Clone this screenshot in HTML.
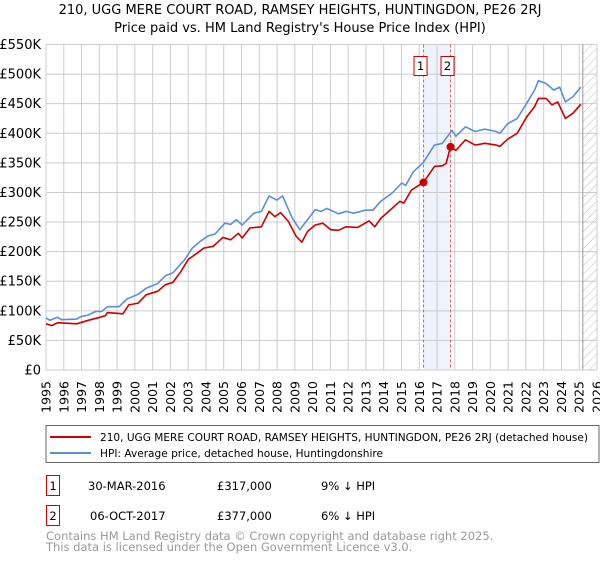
<!DOCTYPE html>
<html><head><meta charset="utf-8"><style>
body{margin:0;background:#fff;width:600px;height:560px;overflow:hidden;font-family:"DejaVu Sans","Liberation Sans",sans-serif}
svg text{font-family:"DejaVu Sans","Liberation Sans",sans-serif}
</style></head><body>
<svg id="chart" width="600" height="560" xmlns="http://www.w3.org/2000/svg">
<defs><pattern id="hatch" width="6" height="6" patternUnits="userSpaceOnUse" patternTransform="rotate(45)"><line x1="0" y1="0" x2="0" y2="6" stroke="#bbb" stroke-width="1"/></pattern></defs>
<text x="300" y="14" font-size="13" text-anchor="middle">210, UGG MERE COURT ROAD, RAMSEY HEIGHTS, HUNTINGDON, PE26 2RJ</text>
<text x="300" y="32" font-size="13" text-anchor="middle">Price paid vs. HM Land Registry's House Price Index (HPI)</text>
<g id="plot"></g>
<g>
<rect x="46" y="425.5" width="553" height="37" fill="#fff" stroke="#666"/>
<line x1="50" y1="437" x2="91" y2="437" stroke="#cc0000" stroke-width="2"/>
<text x="100" y="441" font-size="11" textLength="488" lengthAdjust="spacingAndGlyphs">210, UGG MERE COURT ROAD, RAMSEY HEIGHTS, HUNTINGDON, PE26 2RJ (detached house)</text>
<line x1="50" y1="453" x2="91" y2="453" stroke="#5b8fd4" stroke-width="2"/>
<text x="100" y="457" font-size="11" textLength="283" lengthAdjust="spacingAndGlyphs">HPI: Average price, detached house, Huntingdonshire</text>
</g>
<g font-size="11.5">
<rect x="46.5" y="475.5" width="13" height="20" fill="#fff" stroke="#cc0000"/>
<text x="53" y="490" text-anchor="middle">1</text>
<text x="88" y="490">30-MAR-2016</text><text x="217" y="490">£317,000</text><text x="321" y="490">9% ↓ HPI</text>
</g>
<g font-size="11.5">
<rect x="46.5" y="505.5" width="13" height="20" fill="#fff" stroke="#cc0000"/>
<text x="53" y="520" text-anchor="middle">2</text>
<text x="90" y="520">06-OCT-2017</text><text x="217" y="520">£377,000</text><text x="321" y="520">6% ↓ HPI</text>
</g>
<text x="46" y="540" font-size="11.5" fill="#999">Contains HM Land Registry data © Crown copyright and database right 2025.</text>
<text x="46" y="551" font-size="11.5" fill="#999">This data is licensed under the Open Government Licence v3.0.</text>
</svg>
<script>
const hpiYears=[1995.0,1995.22,1995.65,1995.87,1996.73,1996.95,1997.38,1997.81,1998.14,1998.46,1999.11,1999.55,2000.19,2000.63,2001.28,2001.71,2002.14,2002.79,2003.23,2003.66,2004.09,2004.52,2005.06,2005.39,2005.71,2006.04,2006.69,2007.12,2007.55,2007.98,2008.31,2008.85,2009.28,2009.71,2010.15,2010.47,2010.8,2011.45,2011.88,2012.31,2012.96,2013.4,2013.83,2014.48,2015.02,2015.24,2015.67,2016.21,2016.86,2017.3,2017.84,2018.06,2018.6,2019.14,2019.68,2020.33,2020.54,2020.97,2021.51,2022.05,2022.49,2022.71,2023.14,2023.57,2023.9,2024.22,2024.65,2025.09];
const hpiValues=[88,84,89,85,86,90,93,99,99,107,107,120,128,138,146,159,164,186,206,217,226,230,248,246,254,245,265,268,294,287,294,257,237,254,271,268,273,264,268,265,270,270,285,299,316,312,335,350,380,383,405,395,411,403,407,403,400,416,425,451,473,489,484,473,478,453,462,478];
const priceYears=[1995.0,1995.32,1995.65,1996.73,1997.38,1998.03,1998.35,1998.46,1999.33,1999.66,2000.19,2000.63,2001.28,2001.71,2002.14,2002.58,2003.01,2003.44,2003.87,2004.41,2004.95,2005.39,2005.82,2006.04,2006.47,2007.12,2007.55,2007.88,2008.2,2008.64,2009.07,2009.39,2009.71,2010.15,2010.58,2011.02,2011.45,2011.88,2012.53,2013.18,2013.5,2013.83,2014.91,2015.13,2015.56,2016.24,2016.86,2017.3,2017.51,2017.76,2018.06,2018.6,2019.14,2019.68,2020.33,2020.54,2020.97,2021.51,2022.05,2022.49,2022.71,2023.14,2023.46,2023.79,2024.22,2024.65,2025.09];
const priceValues=[78,75,80,78,84,89,92,97,95,110,113,127,133,144,148,166,187,196,206,209,224,220,231,223,240,242,268,259,266,251,226,216,234,245,248,237,236,242,241,252,242,256,285,282,304,317,344,345,349,377,371,389,380,383,380,378,390,400,428,445,459,459,448,453,425,434,449];
const saleYears=[2016.24,2017.76];
const saleValues=[317,377];
const saleLabels=["1","2"];
const yTicks=[0,50,100,150,200,250,300,350,400,450,500,550];
const yTickLabels=["£0","£50K","£100K","£150K","£200K","£250K","£300K","£350K","£400K","£450K","£500K","£550K"];
const xTicks=[];for(let y=1995;y<=2026;y++)xTicks.push(y);
const forecastStart=2025.2;

const X0=46,X1=597,Y0=370,Y1=44.5,XMIN=1995,XMAX=2026,YMAX=550;
const sx=v=>X0+(v-XMIN)/(XMAX-XMIN)*(X1-X0);
const sy=v=>Y0-v/YMAX*(Y0-Y1);
const NS="http://www.w3.org/2000/svg";
const g=document.getElementById('plot');
function mk(tag,attrs,parent){const e=document.createElementNS(NS,tag);for(const k in attrs)e.setAttribute(k,attrs[k]);(parent||g).appendChild(e);return e;}

const band=mk('rect',{x:sx(saleYears[0]),y:Y1,width:sx(saleYears[1])-sx(saleYears[0]),height:Y0-Y1,fill:'#eef3fc'});


xTicks.forEach((t,i)=>{
  const l=mk('line',{x1:sx(t),x2:sx(t),y1:Y1,y2:Y0,stroke:'#ccc','stroke-width':1});
  
  
  const tx=mk('text',{x:0,y:0,'font-size':12.5,'text-anchor':'end',transform:`translate(${sx(t)+4.5},${Y0+11}) rotate(-90)`});
  tx.textContent=String(t);
  
  
});
yTicks.forEach((t,i)=>{
  const l=mk('line',{x1:X0,x2:X1,y1:sy(t),y2:sy(t),stroke:'#ccc','stroke-width':1});
  
  
  const tx=mk('text',{x:41,y:sy(t)+4.5,'font-size':13,'text-anchor':'end'});
  tx.textContent=yTickLabels[i];
  
  
});
const hz=mk('rect',{x:sx(forecastStart),y:Y1,width:X1-sx(forecastStart),height:Y0-Y1,fill:'url(#hatch)'});


const hl=mk('line',{x1:sx(forecastStart),x2:sx(forecastStart),y1:Y1,y2:Y0,stroke:'#999','stroke-width':1});


saleYears.forEach((y,i)=>{
  const l=mk('line',{x1:sx(y),x2:sx(y),y1:Y1,y2:Y0,stroke:'#e06060','stroke-width':1,'stroke-dasharray':'3,2'});
  
  
});
const ax=mk('line',{x1:X0,x2:X1,y1:Y0,y2:Y0,stroke:'#ccc'});


function pts(xs,vs){return xs.map((x,i)=>sx(x).toFixed(1)+','+sy(vs[i]).toFixed(1)).join(' ');}
const hp=mk('polyline',{points:pts(hpiYears,hpiValues),fill:'none',stroke:'#5b8fd4','stroke-width':1.6,'stroke-linejoin':'round'});


const pp=mk('polyline',{points:pts(priceYears,priceValues),fill:'none',stroke:'#cc0000','stroke-width':1.6,'stroke-linejoin':'round'});


saleYears.forEach((y,i)=>{
  const c=mk('circle',{cx:sx(y),cy:sy(saleValues[i]),r:4,fill:'#cc0000'});
  
  
  const bx=sx(y)-10;
  const r=mk('rect',{x:bx+0.5,y:56.5,width:13,height:19,fill:'#fff',stroke:'#cc0000'});
  
  
  const t=mk('text',{x:bx+7,y:70,'font-size':11.5,'text-anchor':'middle'});
  t.textContent=saleLabels[i];
  
  
});
</script>
</body></html>
